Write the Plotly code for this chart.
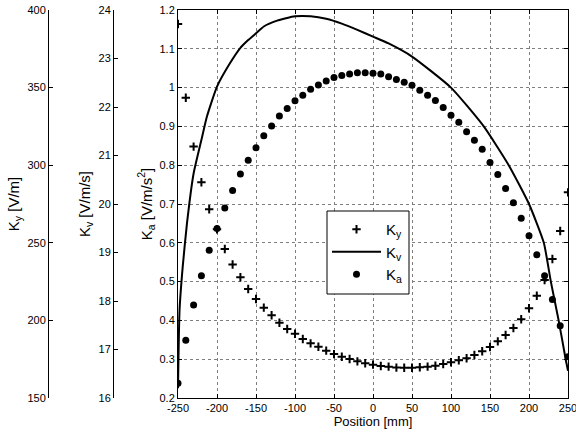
import plotly.graph_objects as go

# ---------------- data ----------------
positions = [-250, -240, -230, -220, -210, -200, -190, -180, -170, -160,
             -150, -140, -130, -120, -110, -100, -90, -80, -70, -60,
             -50, -40, -30, -20, -10, 0, 10, 20, 30, 40,
             50, 60, 70, 80, 90, 100, 110, 120, 130, 140,
             150, 160, 170, 180, 190, 200, 210, 220, 230, 240, 250]

ky_values = [391.0, 343.5, 312.0, 289.0, 271.6, 258.7, 246.0, 236.0, 227.8, 220.2,
             213.8, 208.2, 203.3, 198.5, 194.5, 191.4, 188.0, 185.2, 183.0, 180.5,
             178.3, 176.6, 175.1, 173.6, 172.4, 171.5, 170.6, 170.2, 169.6, 169.5,
             169.5, 169.8, 170.2, 170.8, 171.9, 173.0, 174.3, 175.6, 177.7, 180.1,
             182.9, 186.5, 190.6, 195.1, 200.7, 207.8, 215.9, 226.0, 239.6, 257.6, 282.5]

ka_values = [0.238, 0.349, 0.440, 0.515, 0.581, 0.637, 0.690, 0.735, 0.777, 0.813,
             0.845, 0.876, 0.901, 0.927, 0.946, 0.966, 0.980, 0.996, 1.007, 1.017,
             1.026, 1.031, 1.035, 1.038, 1.038, 1.037, 1.035, 1.028, 1.021, 1.014,
             1.006, 0.993, 0.980, 0.967, 0.949, 0.929, 0.911, 0.886, 0.864, 0.841,
             0.807, 0.776, 0.740, 0.703, 0.663, 0.618, 0.569, 0.515, 0.454, 0.386, 0.306]

kv_positions = [-250, -248, -244, -238.5, -230, -220, -213, -200, -185, -170,
                -160, -150, -140, -123, -100, -80, -60, -40, -20, 0,
                20, 50, 100, 142, 174, 200, 219, 228, 238, 247, 250]
kv_values = [16.20, 17.82, 18.70, 19.60, 20.63, 21.32, 21.80, 22.42, 22.86, 23.22,
             23.38, 23.52, 23.66, 23.78, 23.87, 23.87, 23.82, 23.72, 23.59, 23.45,
             23.31, 23.04, 22.40, 21.60, 20.80, 20.00, 19.20, 18.40, 17.60, 16.80, 16.56]

x_ticks = [-250, -200, -150, -100, -50, 0, 50, 100, 150, 200, 250]
x_tick_labels = ["-250", "-200", "-150", "-100", "-50", "0", "50", "100", "150", "200", "250"]
ka_ticks = [0.2, 0.3, 0.4, 0.5, 0.6, 0.7, 0.8, 0.9, 1.0, 1.1, 1.2]
ka_tick_labels = ["0.2", "0.3", "0.4", "0.5", "0.6", "0.7", "0.8", "0.9", "1", "1.1", "1.2"]
kv_ticks = [16, 17, 18, 19, 20, 21, 22, 23, 24]
ky_ticks = [150, 200, 250, 300, 350, 400]

# ---------------- figure ----------------
W, H = 576, 436
FONT = "Liberation Sans, Arial, sans-serif"

fig = go.Figure()
fig.add_trace(go.Scatter(x=positions, y=ky_values, yaxis="y3", mode="markers",
                         name="K<sub>y</sub>",
                         marker=dict(symbol="cross-thin", size=6, color="black",
                                     line=dict(width=2, color="black"))))
fig.add_trace(go.Scatter(x=kv_positions, y=kv_values, yaxis="y2", mode="lines",
                         name="K<sub>v</sub>",
                         line=dict(color="black", width=2, shape="spline", smoothing=0.5)))
fig.add_trace(go.Scatter(x=positions, y=ka_values, yaxis="y", mode="markers",
                         name="K<sub>a</sub>",
                         marker=dict(symbol="circle", size=7, color="black")))

x0, x1 = 178 / W, 568 / W
y0, y1 = (H - 398) / H, (H - 10) / H

tickfont = dict(family=FONT, size=11, color="black")
ytitlefont = dict(family=FONT, size=15, color="black")
xtitlefont = dict(family=FONT, size=13, color="black")

# legend frame (white box with black border)
fig.add_shape(type="rect", xref="paper", yref="paper",
              x0=327 / W, x1=409 / W, y0=(H - 294) / H, y1=(H - 211) / H,
              line=dict(color="black", width=1), fillcolor="white", layer="above")

fig.update_layout(
    width=W, height=H,
    margin=dict(l=0, r=0, t=0, b=0, autoexpand=False),
    paper_bgcolor="white", plot_bgcolor="white",
    font=dict(family=FONT, color="black"),
    showlegend=True,
    legend=dict(x=327 / W, y=(H - 213) / H, xanchor="left", yanchor="top",
                borderwidth=0, bgcolor="rgba(0,0,0,0)",
                font=dict(family=FONT, size=15, color="black"),
                itemwidth=49, tracegroupgap=0),
    xaxis=dict(domain=[x0, x1], range=[-250, 250], tickvals=x_ticks, ticktext=x_tick_labels,
               showline=True, linecolor="black", linewidth=1, mirror="ticks",
               ticks="inside", ticklen=4, tickcolor="black", automargin=False,
               ticklabeloverflow="allow",
               showgrid=True, gridcolor="#7f7f7f", griddash="dot", gridwidth=1,
               zeroline=False, tickfont=tickfont,
               title=dict(text="Position [mm]", font=xtitlefont, standoff=2)),
    yaxis=dict(domain=[y0, y1], range=[0.2, 1.2], tickvals=ka_ticks, ticktext=ka_tick_labels,
               showline=True, linecolor="black", linewidth=1, mirror="ticks",
               ticks="inside", ticklen=4, tickcolor="black", automargin=False,
               ticklabeloverflow="allow",
               showgrid=True, gridcolor="#7f7f7f", griddash="dot", gridwidth=1,
               zeroline=False, tickfont=tickfont,
               title=dict(text="K<sub>a</sub> [V/m/s<sup>2</sup>]", font=ytitlefont, standoff=3)),
    yaxis2=dict(overlaying="y", anchor="free", position=113 / W, side="left",
                range=[16, 24], tickvals=kv_ticks, automargin=False,
                ticklabeloverflow="allow",
                showline=True, linecolor="black", linewidth=1,
                ticks="inside", ticklen=4, tickcolor="black",
                showgrid=False, zeroline=False, tickfont=tickfont,
                title=dict(text="K<sub>v</sub> [V/m/s]", font=ytitlefont, standoff=3)),
    yaxis3=dict(overlaying="y", anchor="free", position=48 / W, side="left",
                range=[150, 400], tickvals=ky_ticks, automargin=False,
                ticklabeloverflow="allow",
                showline=True, linecolor="black", linewidth=1,
                ticks="inside", ticklen=4, tickcolor="black",
                showgrid=False, zeroline=False, tickfont=tickfont,
                title=dict(text="K<sub>y</sub> [V/m]", font=ytitlefont, standoff=3)),
)

fig.write_html("out.html", config={"displayModeBar": False},
               post_script="document.body.style.margin='0';")
